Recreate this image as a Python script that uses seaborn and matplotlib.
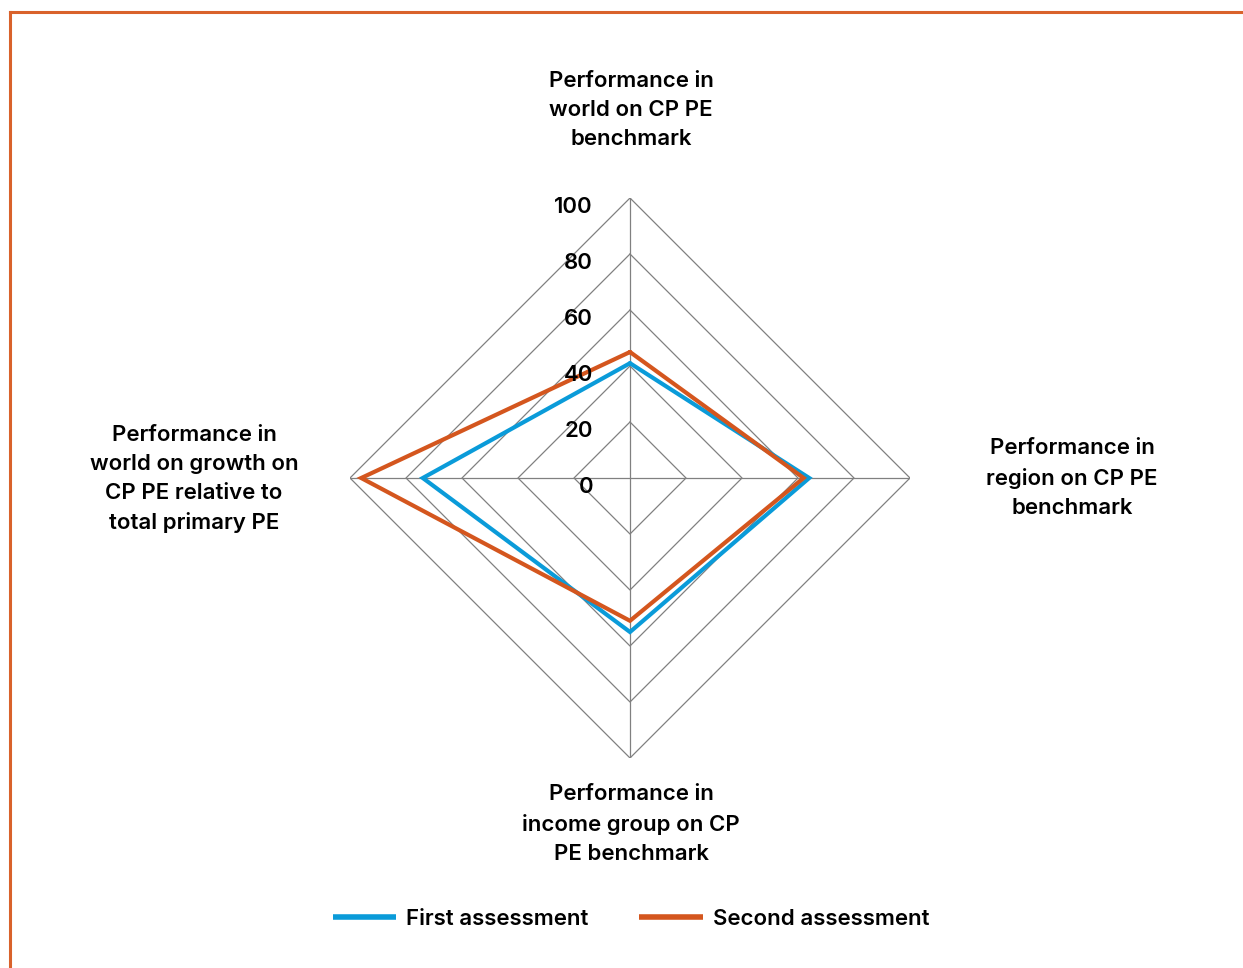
import numpy as np
import pandas as pd
import matplotlib
matplotlib.use("Agg")
import matplotlib.pyplot as plt
import seaborn as sns
from matplotlib.lines import Line2D

categories = [
    "Performance in\nworld on CP PE\nbenchmark",
    "Performance in\nregion on CP PE\nbenchmark",
    "Performance in\nincome group on CP\nPE benchmark",
    "Performance in\nworld on growth on\nCP PE relative to\ntotal primary PE",
]
series_names = ["First assessment", "Second assessment"]
first_values = [41, 64, 55, 74]
second_values = [45, 62, 51, 96]
tick_values = [0, 20, 40, 60, 80, 100]
tick_labels = ["0", "20", "40", "60", "80", "100"]

colors = {"First assessment": "#0A9BD9", "Second assessment": "#D4561E"}
FONT = ["Inter", "DejaVu Sans"]

sns.set_theme(style="white")
plt.rcParams["font.family"] = FONT

W, H = 1243, 968
fig = plt.figure(figsize=(W / 100, H / 100), dpi=100)
cx, cy, R = 630, 478, 280
ax = fig.add_axes([(cx - R) / W, (H - cy - R) / H, 2 * R / W, 2 * R / H], projection="polar")
ax.set_theta_zero_location("N")
ax.set_theta_direction(-1)
ax.set_ylim(0, 100)
ax.grid(False)
ax.spines["polar"].set_visible(False)
ax.patch.set_alpha(0)

n = len(categories)
angles = np.linspace(0, 2 * np.pi, n, endpoint=False)
closed = np.append(angles, 2 * np.pi)

# polygon grid
for t in tick_values[1:]:
    ax.plot(closed, [t] * (n + 1), color="#808080", lw=0.9, zorder=1)
for a in angles:
    ax.plot([a, a], [0, 100], color="#808080", lw=0.9, zorder=1)

# data
rows = []
for name, vals in zip(series_names, [first_values, second_values]):
    for th, v in zip(closed, vals + vals[:1]):
        rows.append({"theta": th, "value": v, "series": name})
df = pd.DataFrame(rows)
sns.lineplot(data=df, x="theta", y="value", hue="series", palette=colors,
             sort=False, estimator=None, ax=ax, lw=3.0, legend=False, zorder=3)
for l in ax.lines[-2:]:
    l.set_solid_joinstyle("miter")
ax.set_xlabel("")
ax.set_ylabel("")
ax.set_xticks([])
ax.set_yticks([])
ax.set_ylim(0, 100)

TXT = dict(fontsize=16, color="black", fontweight=600)

# tick labels
for t, lab in zip(tick_values, tick_labels):
    ax.annotate(lab, xy=(0, t), xytext=(-37, -9), textcoords="offset pixels",
                ha="right", va="center", zorder=4, **TXT)

# category labels (figure pixel positions of text centres)
label_pos = [(631, 110), (1072, 478), (631, 824), (194, 479)]
for lab, (x, y) in zip(categories, label_pos):
    fig.text(x / W, 1 - y / H, lab, ha="center", va="center",
             linespacing=1.56, **TXT)

# legend
handles = [Line2D([], [], color=colors[s], lw=4, solid_capstyle="butt") for s in series_names]
fig.legend(handles, series_names, loc="center", bbox_to_anchor=(631 / W, 1 - 919 / H),
           ncol=2, frameon=False, handlelength=2.85, handletextpad=0.45,
           columnspacing=2.3, labelcolor="black",
           prop={"size": 16, "weight": 600})

# frame border (top and left)
fig.add_artist(Line2D([10 / W, 10 / W], [0, 1 - 12 / H], color="#D9622B", lw=2.2,
                      transform=fig.transFigure, solid_capstyle="projecting"))
fig.add_artist(Line2D([10 / W, 1], [1 - 12 / H, 1 - 12 / H], color="#D9622B", lw=2.2,
                      transform=fig.transFigure, solid_capstyle="projecting"))

fig.savefig("out.png", dpi=100)
